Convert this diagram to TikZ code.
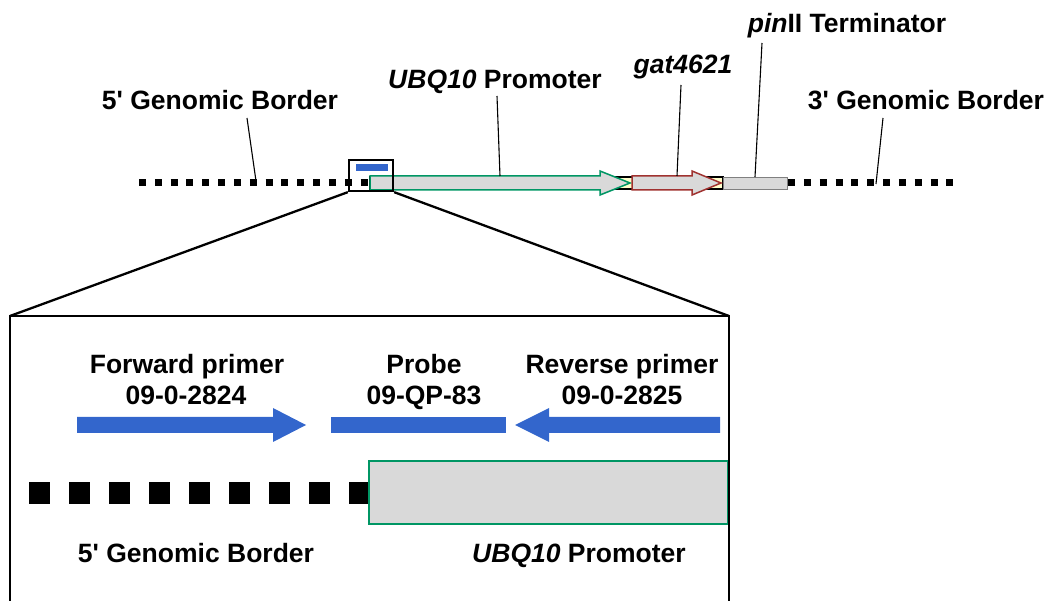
\documentclass[tikz,border=0pt]{standalone}
\usepackage{fontspec}
\setmainfont{Liberation Sans}
\definecolor{pblue}{RGB}{51,102,204}
\definecolor{pgreen}{RGB}{0,150,100}
\definecolor{pred}{RGB}{160,50,48}
\definecolor{pgray}{RGB}{217,217,217}
\definecolor{pyel}{RGB}{255,255,204}
\begin{document}
\begin{tikzpicture}[x=1pt,y=-1pt,
  lbl/.style={font=\fontsize{26.5}{31}\selectfont\bfseries, inner sep=0pt, anchor=base},
  lbltwo/.style={font=\fontsize{26.5}{31}\selectfont\bfseries, inner sep=0pt, align=center, anchor=base},
  topdots/.style={line width=7pt, dash pattern=on 7pt off 8.83pt},
  bigdots/.style={line width=22pt, dash pattern=on 21pt off 19pt},
  leader/.style={line width=1.1pt, black},
  frame/.style={line width=2.3pt, black},
  promo/.style={fill=pgray, draw=pgreen, line width=1.5pt, line join=miter},
  gene/.style={fill=pgray, draw=pred, line width=1.5pt, line join=miter},
  bluearrow/.style={fill=pblue, draw=none}]
\useasboundingbox (0,0) rectangle (1050,601);

% ---------- top construct ----------
\coordinate (dl) at (139,183);
\coordinate (dr) at (956,183);
\draw[topdots] (dl) -- (dr);
\draw[fill=pyel, draw=black, line width=1.5pt] (370,177) rectangle (723,189);
\path[promo] (370,176) -- (600,176) -- (600,171) -- (630,183) -- (600,195) -- (600,190) -- (370,190) -- cycle;
\path[gene] (632,176) -- (692,176) -- (692,171) -- (721,183) -- (692,195) -- (692,190) -- (632,190) -- cycle;
\path[fill=pgray, draw=gray, line width=0.5pt] (723,177) rectangle (787,189);

% zoom box
\node[draw=black, line width=2.3pt, minimum width=44pt, minimum height=31pt, inner sep=0pt] (zbox) at (371,175.5) {};
\path[fill=pblue] (356,164) rectangle (388,171);

% labels top
\node[lbl] (l5) at (220,110) {5\textquotesingle{} Genomic Border};
\node[lbl] (lubq) at (495,89) {\textit{UBQ10} Promoter};
\node[lbl] (lgat) at (683,74) {\textit{gat4621}};
\node[lbl] (lpin) at (847,33) {\textit{pin}II Terminator};
\node[lbl] (l3) at (926,110) {3\textquotesingle{} Genomic Border};

\coordinate (t5) at (256,181);
\coordinate (tubq) at (500,176);
\coordinate (tgat) at (677,176);
\coordinate (tpin) at (755,177);
\coordinate (t3) at (876,184);
\draw[leader] (247,118) -- (t5);
\draw[leader] (497,96) -- (tubq);
\draw[leader] (681,85) -- (tgat);
\draw[leader] (762,43) -- (tpin);
\draw[leader] (883,118) -- (t3);

% ---------- zoom lines and big box ----------
\coordinate (bl) at (10,316);
\coordinate (br) at (729,316);
\draw[frame] (zbox.south west) -- (bl);
\draw[frame] (zbox.south east) -- (br);
\draw[frame, line join=miter] (10,601) -- (bl) -- (br) -- (729,601);

% ---------- inner content ----------
\node[lbltwo] (lfwd) at (187,374) {Forward primer};
\node[lbltwo] (lfwdn) at (186,405) {09-0-2824};
\node[lbltwo] (lprb) at (424,374) {Probe};
\node[lbltwo] (lprbn) at (424,405) {09-QP-83};
\node[lbltwo] (lrev) at (622,374) {Reverse primer};
\node[lbltwo] (lrevn) at (622,405) {09-0-2825};

\path[bluearrow] (77,417) -- (273,417) -- (273,408) -- (306,425) -- (273,442) -- (273,433) -- (77,433) -- cycle;
\path[bluearrow] (331,417) rectangle (506,433);
\path[bluearrow] (720,417) -- (549,417) -- (549,408) -- (515,425) -- (549,442) -- (549,433) -- (720,433) -- cycle;

\coordinate (bdl) at (29,493);
\coordinate (bdr) at (372,493);
\draw[bigdots] (bdl) -- (bdr);
\path[fill=pgray, draw=pgreen, line width=1.5pt] (369,461) rectangle (728,524);
\draw[frame] (729,460) -- (729,601);

\node[lbl] (b5) at (196,562) {5\textquotesingle{} Genomic Border};
\node[lbl] (bubq) at (579,562) {\textit{UBQ10} Promoter};
\end{tikzpicture}
\end{document}
